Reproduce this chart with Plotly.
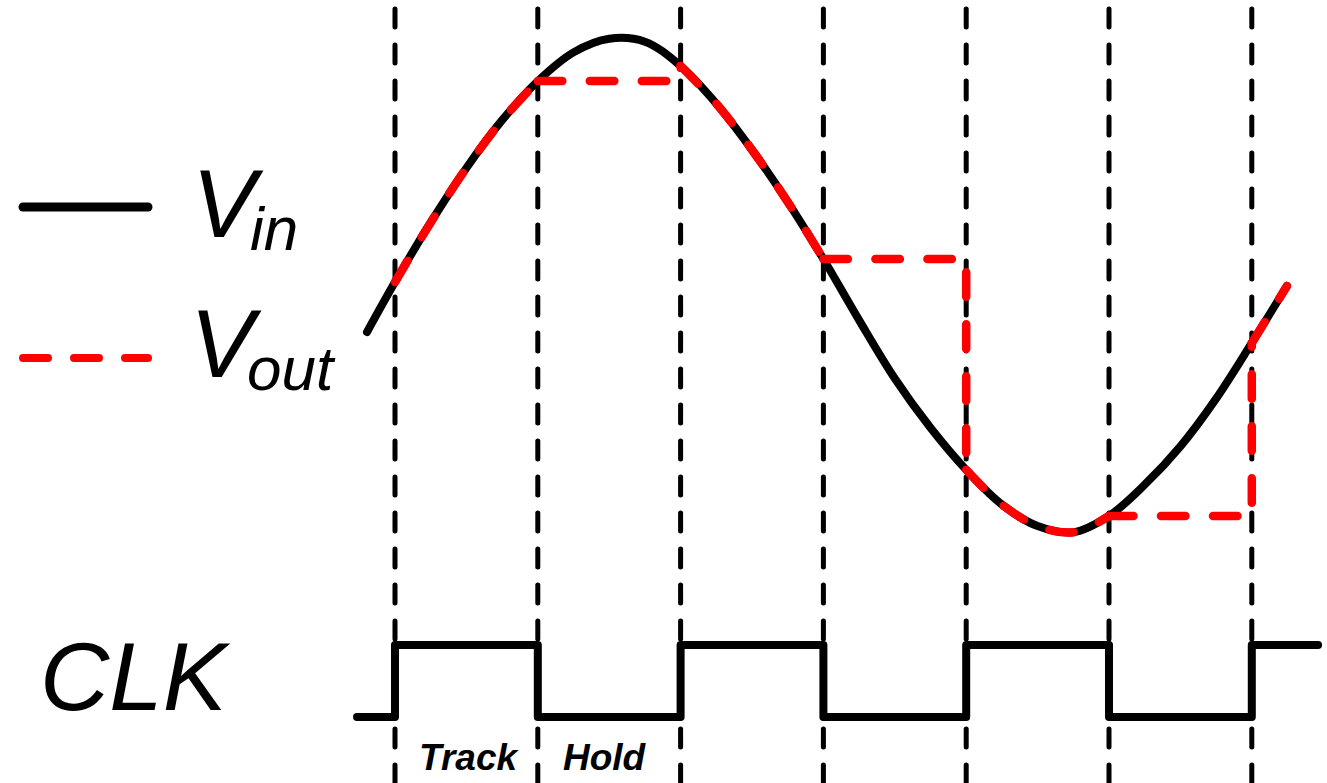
import plotly.graph_objects as go

# ---- data (time in clock half-periods, voltage normalised) ----
t_in = [-0.196, 0.0, 0.25, 0.5, 0.75, 1.0, 1.25, 1.5, 1.75, 2.0, 2.25, 2.5, 2.75, 3.0,
        3.25, 3.5, 3.75, 4.0, 4.25, 4.5, 4.75, 5.0, 5.25, 5.5, 5.75, 6.0, 6.246]
v_in = [-0.188, 0.014, 0.255, 0.475, 0.668, 0.826, 0.942, 0.997, 0.985, 0.887, 0.735, 0.548,
        0.338, 0.107, -0.140, -0.376, -0.575, -0.745, -0.885, -0.972, -0.997, -0.931,
        -0.805, -0.650, -0.457, -0.232, -0.002]

clk_t = [-0.266, 0, 1, 2, 3, 4, 5, 6, 6.464]
clk_v = [0, 1, 0, 1, 0, 1, 0, 1, 1]

edges = [0, 1, 2, 3, 4, 5, 6]
track_windows = [(0, 1), (2, 3), (4, 5), (6, 6.246)]

labels = {"vin": ("V", "in"), "vout": ("V", "out"), "clk": "CLK", "track": "Track", "hold": "Hold"}

FONT = "Arial, 'Liberation Sans', sans-serif"
W, H = 1327, 783
RED = "#ff0000"
RED_DASH = "24.5px,27.5px"

fig = go.Figure()

def vin_at(t):
    return v_in[t_in.index(t)]

# Vin
fig.add_trace(go.Scatter(x=t_in, y=v_in, mode="lines",
                         line=dict(color="black", width=8, shape="spline", smoothing=1),
                         hoverinfo="skip"))

# Vout: track segments (follow Vin) and hold segments
for i, (a, b) in enumerate(track_windows):
    xs = [t for t in t_in if a <= t <= b]
    ys = [v for t, v in zip(t_in, v_in) if a <= t <= b]
    fig.add_trace(go.Scatter(x=xs, y=ys, mode="lines",
                             line=dict(color=RED, width=8.5, dash=RED_DASH,
                                       shape="spline", smoothing=1),
                             hoverinfo="skip"))
    if i + 1 < len(track_windows):
        na = track_windows[i + 1][0]
        hv = vin_at(b)
        fig.add_trace(go.Scatter(x=[b, na, na], y=[hv, hv, vin_at(na)], mode="lines",
                                 line=dict(color=RED, width=8.5, dash=RED_DASH),
                                 hoverinfo="skip"))

# Clock
fig.add_trace(go.Scatter(x=clk_t, y=clk_v, yaxis="y2", mode="lines",
                         line=dict(color="black", width=8, shape="hv"),
                         hoverinfo="skip"))

shapes = []
for e in edges:
    shapes.append(dict(type="line", xref="x", yref="paper", x0=e, x1=e, y0=0, y1=1 - 9 / H,
                       line=dict(color="black", width=5, dash="18px,18px"), layer="below"))

# legend samples
shapes.append(dict(type="line", xref="paper", yref="paper", x0=23 / W, x1=148 / W,
                   y0=1 - 207 / H, y1=1 - 207 / H, line=dict(color="black", width=9)))
shapes.append(dict(type="line", xref="paper", yref="paper", x0=23 / W, x1=148 / W,
                   y0=1 - 358 / H, y1=1 - 358 / H,
                   line=dict(color=RED, width=8, dash="25px,26px")))

def ann(text, x, yc, size, weight="normal", xanchor="left"):
    return dict(text=text, x=x / W, y=1 - yc / H, xref="paper", yref="paper",
                xanchor=xanchor, yanchor="middle", showarrow=False,
                font=dict(family=FONT, size=size, color="black", style="italic", weight=weight))

annotations = [
    ann(labels["vin"][0], 190, 237 - 0.3465 * 96, 96),
    ann(labels["vin"][1], 248, 250 - 0.3465 * 62, 62),
    ann(labels["vout"][0], 188, 377 - 0.3465 * 96, 96),
    ann(labels["vout"][1], 245, 390 - 0.3465 * 62, 62),
    ann(labels["clk"], 38, 710 - 0.3465 * 96, 96),
    ann(labels["track"], 469, 770 - 0.3465 * 37, 37, "bold", "center"),
    ann(labels["hold"], 605, 770 - 0.3465 * 37, 37, "bold", "center"),
]

fig.update_layout(
    width=W, height=H, autosize=False,
    margin=dict(l=0, r=0, t=0, b=0),
    paper_bgcolor="white", plot_bgcolor="white", showlegend=False,
    xaxis=dict(range=[-395 / 142.8, (W - 395) / 142.8], visible=False),
    yaxis=dict(range=[(285.5 - H) / 247.5, 285.5 / 247.5], visible=False),
    yaxis2=dict(range=[(717 - H) / 72, 717 / 72], overlaying="y", visible=False),
    shapes=shapes, annotations=annotations,
)

post = (
    "document.body.style.margin='0';"
    "document.querySelectorAll('svg.main-svg path').forEach(function(p){"
    "p.style.strokeLinecap='round';p.style.strokeLinejoin='round';});"
)
fig.write_html("out.html", post_script=post, config={"displayModeBar": False})
